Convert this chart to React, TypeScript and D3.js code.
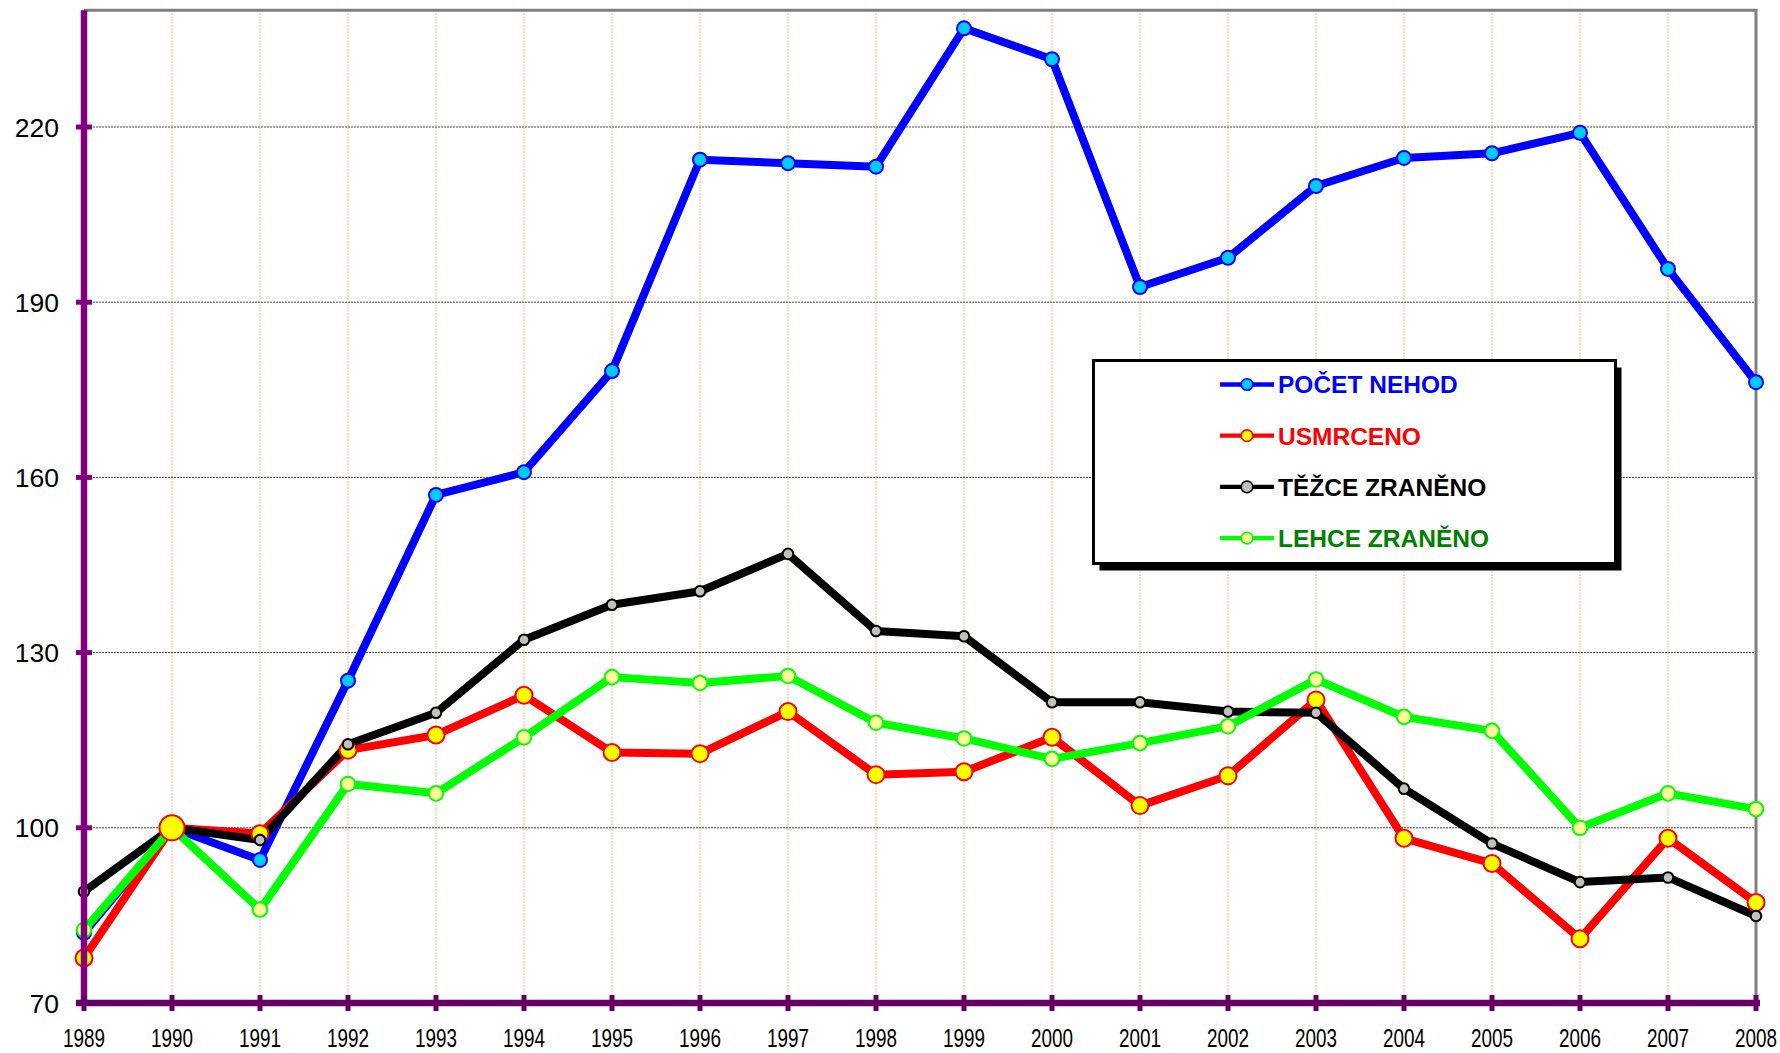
import * as d3 from 'd3'

const years = [
  1989, 1990, 1991, 1992, 1993, 1994, 1995, 1996, 1997, 1998, 1999, 2000,
  2001, 2002, 2003, 2004, 2005, 2006, 2007, 2008,
]
const pocetNehod = [
  82.0, 100, 94.5, 125.2, 157.0, 160.9, 178.2, 214.4, 213.8, 213.2, 236.9,
  231.6, 192.6, 197.6, 209.9, 214.7, 215.5, 219.0, 195.7, 176.3,
]
const usmrceno = [
  77.7, 100, 99.0, 113.3, 115.9, 122.7, 112.9, 112.7, 119.9, 109.1, 109.6,
  115.5, 103.8, 108.9, 121.9, 98.2, 93.9, 81.0, 98.2, 87.2,
]
const tezceZraneno = [
  89.1, 100, 97.9, 114.3, 119.7, 132.2, 138.2, 140.5, 146.9, 133.7, 132.8,
  121.5, 121.5, 119.9, 119.7, 106.7, 97.3, 90.7, 91.5, 84.9,
]
const lehceZraneno = [
  82.5, 100, 86.0, 107.5, 105.9, 115.5, 125.8, 124.8, 126.0, 118.0, 115.3,
  111.8, 114.5, 117.4, 125.4, 119.0, 116.6, 100.0, 105.9, 103.2,
]
const yTicks = [70, 100, 130, 160, 190, 220]

const series = [
  { name: 'POČET NEHOD', values: pocetNehod, line: '#0000ff', fill: '#00ccff', stroke: '#0000ff', text: '#0000ff', r: 7 },
  { name: 'USMRCENO', values: usmrceno, line: '#ff0000', fill: '#ffff00', stroke: '#ff0000', text: '#ff0000', r: 8.5 },
  { name: 'TĚŽCE ZRANĚNO', values: tezceZraneno, line: '#000000', fill: '#c0c0c0', stroke: '#000000', text: '#000000', r: 5.3 },
  { name: 'LEHCE ZRANĚNO', values: lehceZraneno, line: '#00ff00', fill: '#ffff99', stroke: '#00ff00', text: '#008000', r: 7.3 },
]

const W = 1780
const H = 1053
const left = 84
const right = 1756
const top = 10.2
const bottom = 1003

export default function App() {
  const x = d3.scaleLinear().domain([1989, 2008]).range([left, right])
  const y = d3.scaleLinear().domain([70, 240]).range([bottom, top])
  const line = d3
    .line<number>()
    .x((_, i) => x(years[i]))
    .y((d) => y(d))

  const legend = { x: 1093.5, y: 360.5, w: 522, h: 203 }

  return (
    <div style={{ position: 'absolute', left: 0, top: 0 }}>
      <svg width={W} height={H} style={{ display: 'block', background: '#fff' }}>
        {/* vertical grid */}
        {years.slice(1, -1).map((yr) => (
          <line
            key={yr}
            x1={x(yr)}
            x2={x(yr)}
            y1={top}
            y2={bottom}
            stroke="#ff9955"
            strokeOpacity={0.75}
            strokeWidth={1}
            strokeDasharray="2,1"
          />
        ))}
        {/* horizontal grid */}
        {yTicks.slice(1).map((t) => (
          <line
            key={t}
            x1={left}
            x2={right}
            y1={y(t)}
            y2={y(t)}
            stroke="#444"
            strokeWidth={1}
            strokeDasharray="2,1"
          />
        ))}
        <path
          d={`M${left},${top} H${right} V${bottom}`}
          fill="none"
          stroke="#808080"
          strokeWidth={3}
        />

        {series.map((s) => (
          <path
            key={s.name}
            d={line(s.values) || ''}
            fill="none"
            stroke={s.line}
            strokeWidth={8}
            strokeLinejoin="round"
          />
        ))}
        {series.map((s) => (
          <g key={s.name}>
            {s.values.map((v, i) => (
              <circle
                key={i}
                cx={x(years[i])}
                cy={y(v)}
                r={s.r}
                fill={s.fill}
                stroke={s.stroke}
                strokeWidth={2}
              />
            ))}
          </g>
        ))}
        <circle
          cx={x(years[1])}
          cy={y(usmrceno[1])}
          r={12.5}
          fill="#ffff00"
          stroke="#ff0000"
          strokeWidth={2}
        />

        {/* axes */}
        <line x1={left} x2={left} y1={top} y2={bottom} stroke="#800080" strokeWidth={6.5} />
        {yTicks.map((t) => (
          <line key={t} x1={left - 8} x2={left + 8} y1={y(t)} y2={y(t)} stroke="#800080" strokeWidth={5} />
        ))}
        <line x1={left - 8} x2={right + 4} y1={bottom} y2={bottom} stroke="#660066" strokeWidth={6.5} />
        {years.map((yr) => (
          <line key={yr} x1={x(yr)} x2={x(yr)} y1={bottom - 8} y2={bottom + 8} stroke="#660066" strokeWidth={5} />
        ))}

        <g fontFamily="'Liberation Sans', Arial, sans-serif" fill="#000">
          {yTicks.map((t) => (
            <text key={t} x={59} y={y(t) + 9.5} fontSize={26.5} textAnchor="end">
              {t}
            </text>
          ))}
          {years.map((yr) => (
            <text
              key={yr}
              x={x(yr)}
              y={1047}
              fontSize={25}
              textAnchor="middle"
              textLength={42}
              lengthAdjust="spacingAndGlyphs"
            >
              {yr}
            </text>
          ))}
        </g>

        {/* legend */}
        <rect x={legend.x + 6} y={legend.y + 7} width={legend.w} height={legend.h} fill="#000" />
        <rect
          x={legend.x}
          y={legend.y}
          width={legend.w}
          height={legend.h}
          fill="#fff"
          stroke="#000"
          strokeWidth={3}
        />
        {series.map((s, i) => {
          const cy = 384.5 + i * 51.2
          return (
            <g key={s.name}>
              <line x1={1220} x2={1274} y1={cy} y2={cy} stroke={s.line} strokeWidth={4.3} />
              <circle cx={1247} cy={cy} r={5.8} fill={s.fill} stroke={s.stroke} strokeWidth={1.6} />
              <text
                x={1278}
                y={cy + 8.8}
                fontFamily="'Liberation Sans', Arial, sans-serif"
                fontWeight="bold"
                fontSize={24.5}
                fill={s.text}
              >
                {s.name}
              </text>
            </g>
          )
        })}
      </svg>
    </div>
  )
}
